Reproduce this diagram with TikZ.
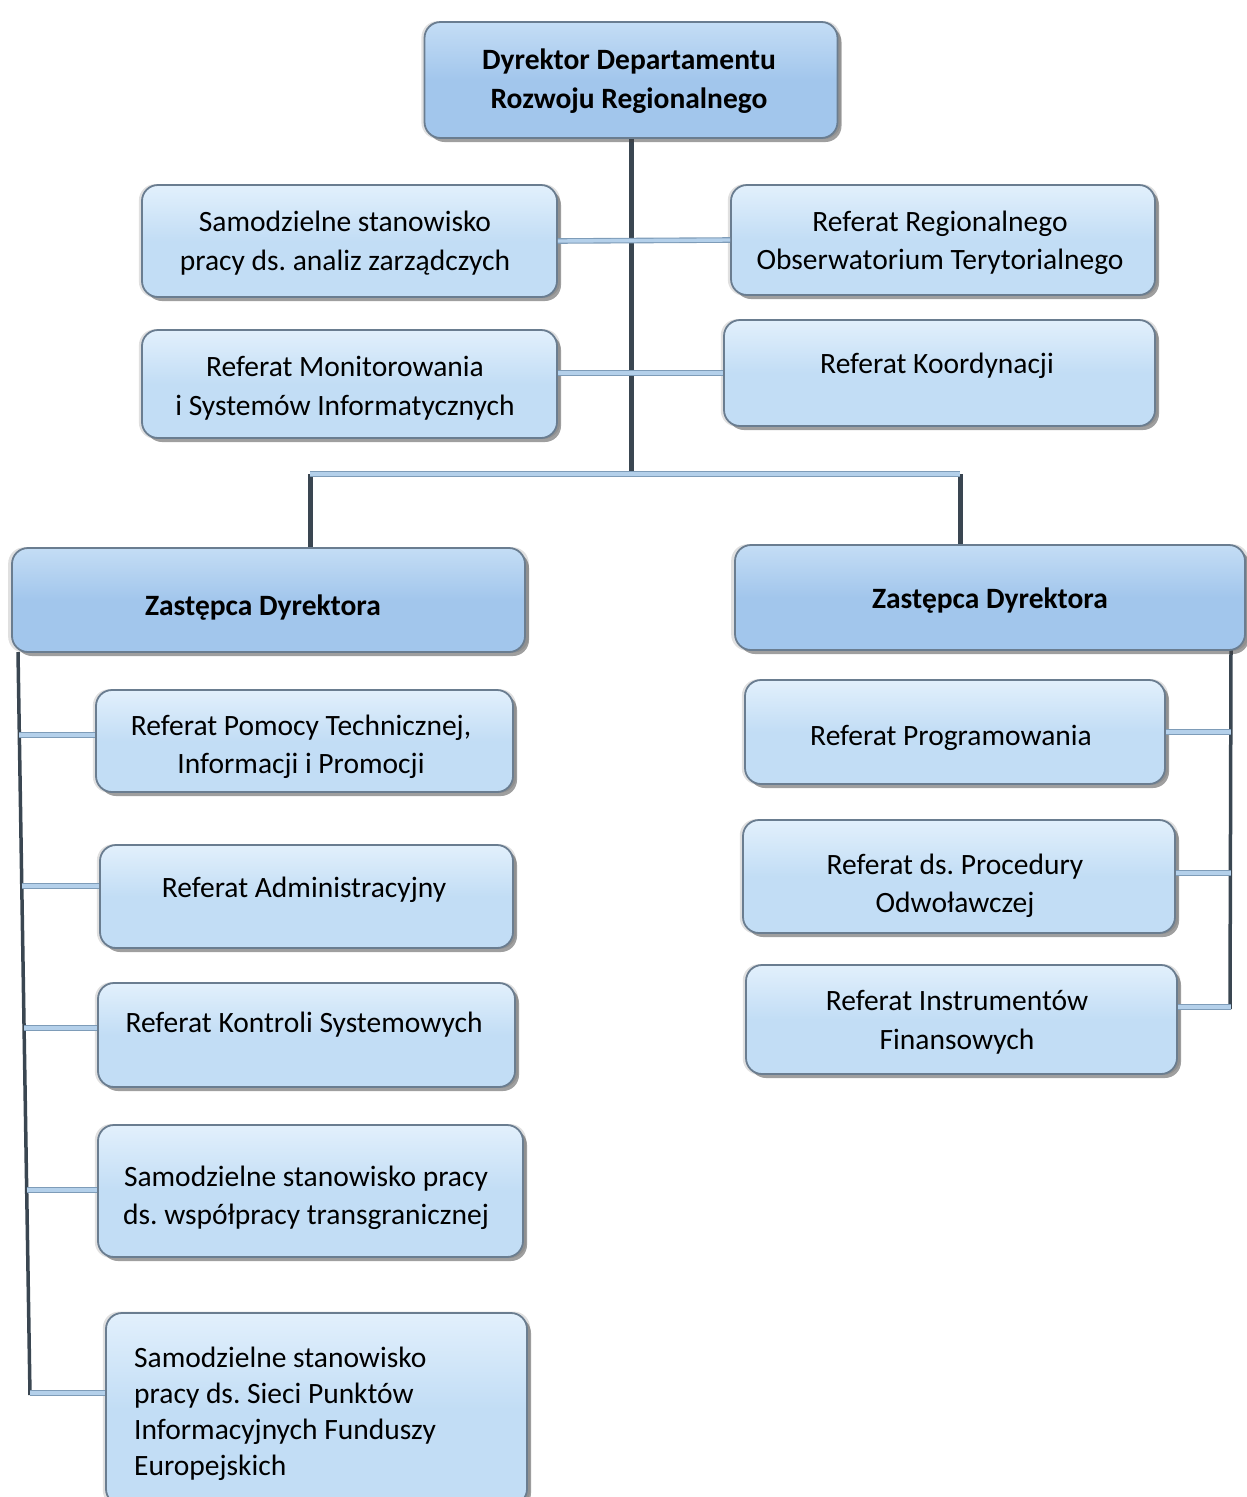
\documentclass[tikz,border=0pt]{standalone}
\usepackage{fontspec}
\setmainfont{Carlito}
\frenchspacing
\usetikzlibrary{shadows,calc}
\definecolor{boxtop}{HTML}{E2F0FC}
\definecolor{boxbot}{HTML}{C2DDF5}
\definecolor{headtop}{HTML}{C4DDF5}
\definecolor{headbot}{HTML}{A2C6EC}
\definecolor{boxedge}{HTML}{6A7D90}
\definecolor{connedge}{HTML}{7E9CB8}
\definecolor{connfill}{HTML}{B4D0EA}
\definecolor{trunkcol}{HTML}{3A4651}
\tikzset{
  box/.style={draw=boxedge, line width=1.8pt, rounded corners=16pt,
    top color=boxtop, bottom color=boxbot, middle color=boxbot,
    general shadow={shadow scale=1.015, fill=black!35, opacity=.35},
    drop shadow={shadow xshift=4pt, shadow yshift=-4pt, fill=black!75, opacity=.5},
    inner sep=0pt},
  head/.style={box, top color=headtop, bottom color=headbot, middle color=headbot},
  txt/.style={font=\fontsize{29.5}{38.5}\selectfont, align=center, inner sep=0pt, text=black},
  htxt/.style={txt, font=\fontsize{29.5}{39}\selectfont\bfseries},
  conn/.style={draw=connedge, line width=1.1pt, double=connfill, double distance=3.4pt},
  trunk/.style={draw=trunkcol, line width=5pt},
  spine/.style={draw=trunkcol, line width=3.5pt},
}
\begin{document}
\begin{tikzpicture}[x=1pt,y=-1pt]
\useasboundingbox (0,0) rectangle (1247,1497);
% coordinates for connector bends
\coordinate (tt) at (631,138);
\coordinate (tb) at (631,474);
\coordinate (bl) at (310,474);
\coordinate (br) at (960,474);
\coordinate (ls0) at (18,652);
\coordinate (ls1) at (30,1395);
\coordinate (la) at (19.3,735);
\coordinate (lb) at (21.7,886);
\coordinate (lc) at (24,1028);
\coordinate (ld) at (26.7,1190);
\coordinate (le) at (30,1393);
\coordinate (rs0) at (1231,650);
\coordinate (rs1) at (1230,1009);
% trunk and spines
\draw[trunk] (tt) -- (tb);
\draw[trunk] (bl) -- (310,548);
\draw[trunk] (br) -- (960,545);
\draw[spine] (ls0) -- (ls1);
\draw[spine] (rs0) -- (rs1);
% boxes
\node[head, minimum width=413pt, minimum height=116pt] (dyr) at (631,80) {};
\node[box, minimum width=415pt, minimum height=112pt] (san) at (349.5,241) {};
\node[box, minimum width=424pt, minimum height=110pt] (reg) at (943,240) {};
\node[box, minimum width=415pt, minimum height=108pt] (mon) at (349.5,384) {};
\node[box, minimum width=431pt, minimum height=106pt] (koo) at (939.5,373) {};
\node[head, minimum width=513pt, minimum height=104pt] (zl) at (268.5,600) {};
\node[head, minimum width=510pt, minimum height=105pt] (zr) at (990,597.5) {};
\node[box, minimum width=417pt, minimum height=102pt] (l1) at (304.5,741) {};
\node[box, minimum width=413pt, minimum height=103pt] (l2) at (306.5,896.5) {};
\node[box, minimum width=417pt, minimum height=104pt] (l3) at (306.5,1035) {};
\node[box, minimum width=425pt, minimum height=132pt] (l4) at (310.5,1191) {};
\node[box, minimum width=421pt, minimum height=192pt] (l5) at (316.5,1409) {};
\node[box, minimum width=420pt, minimum height=104pt] (r1) at (955,732) {};
\node[box, minimum width=432pt, minimum height=113pt] (r2) at (959,876.5) {};
\node[box, minimum width=431pt, minimum height=109pt] (r3) at (961.5,1019.5) {};
% texts
\node[htxt] (dyrt) at (629,81) {Dyrektor Departamentu\\Rozwoju Regionalnego};
\node[txt] (sant) at (345,243) {Samodzielne stanowisko\\pracy ds. analiz zarządczych};
\node[txt] (regt) at (940,243) {Referat Regionalnego\\Obserwatorium Terytorialnego};
\node[txt] (mont) at (345,388) {Referat Monitorowania\\i Systemów Informatycznych};
\node[txt] (koot) at (937,366) {Referat Koordynacji};
\node[htxt] (zlt) at (263,608) {Zastępca Dyrektora};
\node[htxt] (zrt) at (990,601) {Zastępca Dyrektora};
\node[txt] (l1t) at (301,747) {Referat Pomocy Technicznej,\\Informacji i Promocji};
\node[txt] (l2t) at (304,890) {Referat Administracyjny};
\node[txt] (l3t) at (304,1025) {Referat Kontroli Systemowych};
\node[txt] (l4t) at (306,1198) {Samodzielne stanowisko pracy\\ds. współpracy transgranicznej};
\node[txt, font=\fontsize{29.5}{36}\selectfont, align=left, anchor=west] (l5t) at (134,1414) {Samodzielne stanowisko\\pracy ds. Sieci Punktów\\Informacyjnych Funduszy\\Europejskich};
\node[txt] (r1t) at (951,738) {Referat Programowania};
\node[txt] (r2t) at (955,886) {Referat ds. Procedury\\Odwoławczej};
\node[txt] (r3t) at (957,1022) {Referat Instrumentów\\Finansowych};
% horizontal connectors
\draw[conn] (san.east) -- (reg.west);
\draw[conn] (koo.west -| mon.east) -- (koo.west);
\draw[conn] (bl) -- (br);
\draw[conn] (la) -- (l1.west |- la);
\draw[conn] (lb) -- (l2.west |- lb);
\draw[conn] (lc) -- (l3.west |- lc);
\draw[conn] (ld) -- (l4.west |- ld);
\draw[conn] (le) -- (l5.west |- le);
\draw[conn] (r1.east |- 0,732) -- (rs0 |- 0,732);
\draw[conn] (r2.east |- 0,873) -- (rs0 |- 0,873);
\draw[conn] (r3.east |- 0,1007) -- (rs0 |- 0,1007);
\end{tikzpicture}
\end{document}
